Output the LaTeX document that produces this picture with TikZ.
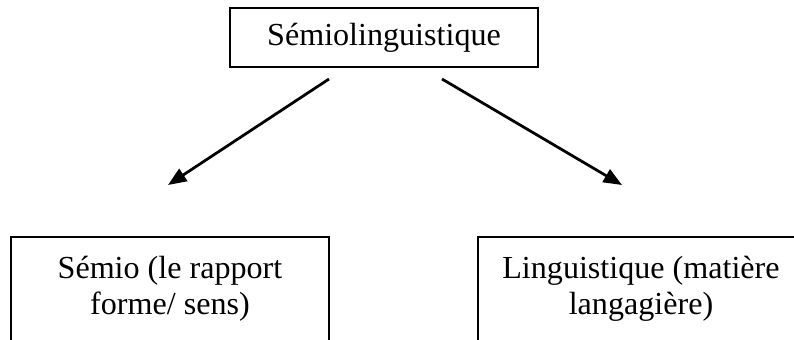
\documentclass[tikz,border=0pt]{standalone}
\usepackage{fontspec}
\setmainfont{Liberation Serif}
\usetikzlibrary{arrows.meta, positioning}

\begin{document}
\begin{tikzpicture}[
    x=0.38pt, y=-0.38pt,
    box/.style={rectangle, draw=black, line width=0.85pt, align=center, font=\fontsize{12.2}{13.7}\selectfont},
    arrow/.style={-{Triangle[length=7pt, width=5.5pt]}, line width=1.05pt}
]
\useasboundingbox (0,0) rectangle (794,340);
\clip (0,0) rectangle (794,340);

% ==== Top ====
\node[box, line width=1.05pt, minimum width=117pt, minimum height=22.4pt] (semioling) at (384,37.5) {Sémiolinguistique};

% ==== Bottom ====
\node[box, minimum width=121pt, minimum height=39.5pt] (semio) at (170,289) {Sémio (le rapport\\ forme/ sens)};
\node[box, minimum width=124pt, minimum height=39.5pt] (ling) at (641,289) {Linguistique (matière\\ langagière)};

% ==== Arrow ends ====
\coordinate (startL) at (329,79);
\coordinate (endL) at (168,185);
\coordinate (startR) at (442,79);
\coordinate (endR) at (622,185);

% ==== Relations ====
\draw[arrow] (startL) -- (endL);
\draw[arrow] (startR) -- (endR);

\end{tikzpicture}
\end{document}
